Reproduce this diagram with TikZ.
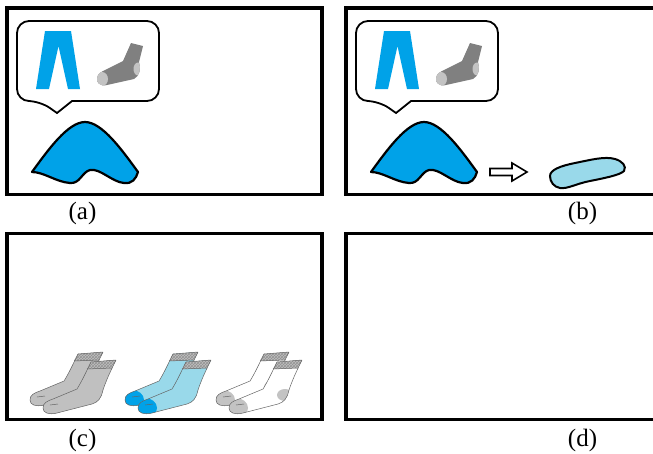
\documentclass[tikz,border=0pt]{standalone}
\usepackage{fontspec}
\setmainfont{Liberation Serif}
\usetikzlibrary{patterns}
\definecolor{vivblue}{RGB}{0,162,232}
\definecolor{paleblue}{RGB}{153,217,234}
\definecolor{sockdark}{RGB}{128,128,128}
\definecolor{socklight}{RGB}{195,195,195}
\definecolor{sockgray}{RGB}{192,192,192}
\definecolor{sockline}{RGB}{100,100,100}

% outline of one sock, toe at the lower left, cuff at the upper right
\newcommand\sockoutline{(43,408) .. controls (43,403) and (47,401) .. (53,399) -- (77,389) .. controls (82,381) and (86,372) .. (91,362) -- (116,360) .. controls (110,372) and (106,381) .. (103,390) .. controls (101,399) and (98,402) .. (92,404) -- (57,413) .. controls (49,415) and (43,413) .. (43,408) -- cycle}
% ribbed cuff band
\newcommand\cuffband{(91,362) -- (116,360) -- (112,368) -- (87,369) -- cycle}

% one sock: #1 body, #2 toe, #3 heel
\newcommand\onesock[3]{%
  \fill[#1] \sockoutline;
  \begin{scope}
    \clip \sockoutline;
    \fill[#2] (50,408) ellipse [x radius=12, y radius=10];
    \fill[#3] (99,395) ellipse [x radius=8, y radius=6];
  \end{scope}
  \fill[gray!50] \cuffband;
  \fill[pattern=crosshatch, pattern color=gray!85] \cuffband;
  \draw[sockoutl] \sockoutline;
  \draw[sockoutl] (87,369) -- (112,368);
  \draw[sockoutl] (50,405) -- (58,404);
}
% a pair: #1 x shift, #2 body, #3 toe, #4 heel
\newcommand\sockpair[4]{%
  \begin{scope}[shift={(#1,0)}]
    \begin{scope}[shift={(-13,-8)}]\onesock{#2}{#3}{#4}\end{scope}
    \onesock{#2}{#3}{#4}
  \end{scope}
}
% thought bubble with trousers and a sock, and the blue heap below it
\newcommand\bubblecontent{%
  \draw[bubble] (72,101) [rounded corners=12pt] -- (159,101) -- (159,21) -- (17,21) -- (17,101) -- (40,101) [sharp corners] -- (57,113) -- cycle;
  \fill[vivblue] (45,31) -- (71,31) -- (80,89) -- (68,89) -- (58.5,46) -- (49,89) -- (36,89) -- cycle;
  \fill[sockdark] \smallsock;
  \begin{scope}
    \clip \smallsock;
    \fill[socklight] (102,79) ellipse [x radius=6, y radius=7];
    \fill[socklight] (138,69) ellipse [x radius=4.5, y radius=6.5];
  \end{scope}
  \draw[hill] \hillpath;
}
\newcommand\smallsock{(131,43) -- (143,46) -- (139,62) .. controls (141,68) and (140,76) .. (134,79) -- (107,85) .. controls (100,87) and (96,82) .. (97,78) .. controls (98,74) and (100,72) .. (103,71) -- (123,61) -- cycle}
\newcommand\hillpath{(32,172) .. controls (48,150) and (68,122) .. (85,122) .. controls (102,122) and (122,150) .. (138,172) .. controls (136,179) and (132,184) .. (124,183) .. controls (112,182) and (100,168) .. (90,170) .. controls (82,172) and (80,184) .. (70,183) .. controls (56,182) and (44,172) .. (32,172) -- cycle}

\begin{document}
\begin{tikzpicture}[x=1pt,y=-1pt,
  panel/.style={draw=black,line width=3.6pt},
  bubble/.style={draw=black,line width=1.8pt,fill=white},
  hill/.style={draw=black,line width=2.2pt,fill=vivblue,line join=round},
  blob/.style={draw=black,line width=2pt,fill=paleblue},
  hollowarrow/.style={draw=black,line width=1.6pt,fill=white},
  sockoutl/.style={draw=sockline,line width=0.5pt,line join=round},
  lbl/.style={font=\fontsize{25}{27}\selectfont,inner sep=0pt}]
\useasboundingbox (0,0) rectangle (653,453);
\clip (0,0) rectangle (653,453);

% frames
\draw[panel] (7,8) rectangle (322,194.5);
\draw[panel] (346,8) rectangle (700,194.5);
\draw[panel] (7,233.5) rectangle (322,419.5);
\draw[panel] (346,233.5) rectangle (700,419.5);

% (a)
\bubblecontent
% (b)
\begin{scope}[shift={(339,0)}]
  \bubblecontent
\end{scope}
\draw[hollowarrow] (490,168.5) -- (512,168.5) -- (512,163) -- (527,172) -- (512,181) -- (512,175.5) -- (490,175.5) -- cycle;
\draw[blob] (550,176) .. controls (550,170) and (560,166) .. (575,163) .. controls (590,160) and (605,156) .. (615,159) .. controls (622,161) and (627,166) .. (624,171) .. controls (620,175) and (605,178) .. (590,181) .. controls (575,184) and (568,189) .. (560,188) .. controls (554,187) and (550,182) .. (550,176) -- cycle;

% (c)
\sockpair{0}{sockgray}{sockgray}{sockgray}
\sockpair{95}{paleblue}{vivblue}{paleblue}
\sockpair{186}{white}{socklight}{socklight}

% labels
\node[lbl] (la) at (82.5,213) {(a)};
\node[lbl] (lb) at (582.5,213) {(b)};
\node[lbl] (lc) at (82.5,440) {(c)};
\node[lbl] (ld) at (582.5,440) {(d)};
\end{tikzpicture}
\end{document}
